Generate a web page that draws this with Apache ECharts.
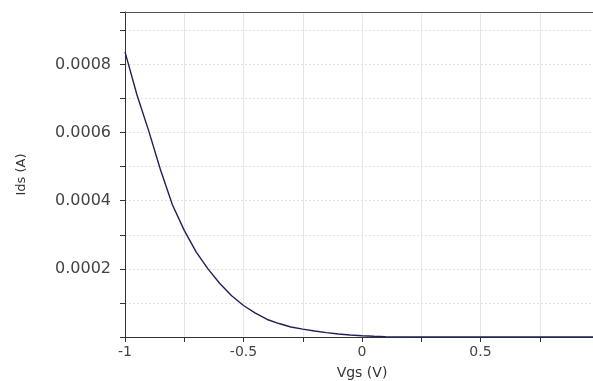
<!DOCTYPE html>
<html>
<head>
<meta charset="utf-8">
<script src="https://cdn.jsdelivr.net/npm/echarts@6/dist/echarts.min.js"></script>
<style>html,body{margin:0;padding:0;background:#fff}#c{width:593px;height:381px}</style>
</head>
<body>
<div id="c"></div>
<script>
// Data
var vgs = [-1.0, -0.95, -0.9, -0.85, -0.8, -0.75, -0.7, -0.65, -0.6, -0.55, -0.5, -0.45, -0.4, -0.35, -0.3, -0.25, -0.2, -0.15, -0.1, -0.05, 0.0, 0.05, 0.1, 0.2, 0.3, 0.4, 0.5, 0.6, 0.7, 0.8, 0.9, 1.0];
var ids = [0.000837, 0.000712, 0.000605, 0.000490, 0.000388, 0.000313, 0.000250, 0.000200, 0.000157, 0.000121, 0.0000925, 0.0000700, 0.0000514, 0.0000395, 0.0000294, 0.0000232, 0.0000176, 0.0000130, 0.0000088, 0.0000059, 0.0000038, 0.0000024, 0.0000012, 0, 0, 0, 0, 0, 0, 0, 0, 0];
var xTickLabels = ['-1', '-0.5', '0', '0.5'];
var yTickLabels = ['0.0002', '0.0004', '0.0006', '0.0008'];
var xName = 'Vgs (V)';
var yName = 'Ids (A)';

var chart = echarts.init(document.getElementById('c'), null, {renderer: 'canvas'});
var pts = vgs.map(function (v, i) { return [v, ids[i]]; });
var font = 'DejaVu Sans';
chart.setOption({
  animation: false,
  backgroundColor: '#ffffff',
  grid: {left: 125, width: 474, top: 12, bottom: 44, show: false, containLabel: false, outerBoundsMode: 'none'},
  xAxis: [{
    type: 'value', min: -1, max: 1, interval: 0.25,
    name: xName, nameLocation: 'middle', nameGap: 29,
    nameTextStyle: {fontFamily: font, fontSize: 14, color: '#333333'},
    axisLine: {show: true, onZero: false, lineStyle: {color: '#333333', width: 1}},
    axisTick: {show: true, length: 5, lineStyle: {color: '#333333'}},
    axisLabel: {
      margin: 8, fontFamily: font, fontSize: 14, color: '#444444',
      showMinLabel: true, showMaxLabel: true,
      formatter: function (v) {
        var s = String(Math.round(v * 100) / 100);
        return xTickLabels.indexOf(s) >= 0 ? s : '';
      }
    },
    splitLine: {show: true, lineStyle: {color: '#e6e6e6', width: 1, type: 'solid'}}
  }, {
    type: 'value', position: 'top', min: -1, max: 1,
    axisLine: {show: true, onZero: false, lineStyle: {color: '#555555', width: 1}},
    axisTick: {show: false}, axisLabel: {show: false}, splitLine: {show: false}
  }],
  yAxis: {
    type: 'value', min: 0, max: 0.000954, interval: 0.0001,
    name: yName, nameLocation: 'middle', nameGap: 97,
    nameTextStyle: {fontFamily: font, fontSize: 13, color: '#333333'},
    axisLine: {show: true, onZero: false, lineStyle: {color: '#333333', width: 1}},
    axisTick: {show: true, length: 5, lineStyle: {color: '#333333'}},
    axisLabel: {
      margin: 14, fontFamily: font, fontSize: 16, color: '#444444',
      formatter: function (v) {
        var s = v.toFixed(4);
        return yTickLabels.indexOf(s) >= 0 ? s : '';
      }
    },
    splitLine: {show: true, lineStyle: {color: '#e2e2e2', width: 1, type: [2, 2]}}
  },
  series: [{
    type: 'line', xAxisIndex: 0, data: pts, showSymbol: false, smooth: false, clip: true,
    lineStyle: {color: '#1f1f5c', width: 1.4}
  }]
});
</script>
</body>
</html>
